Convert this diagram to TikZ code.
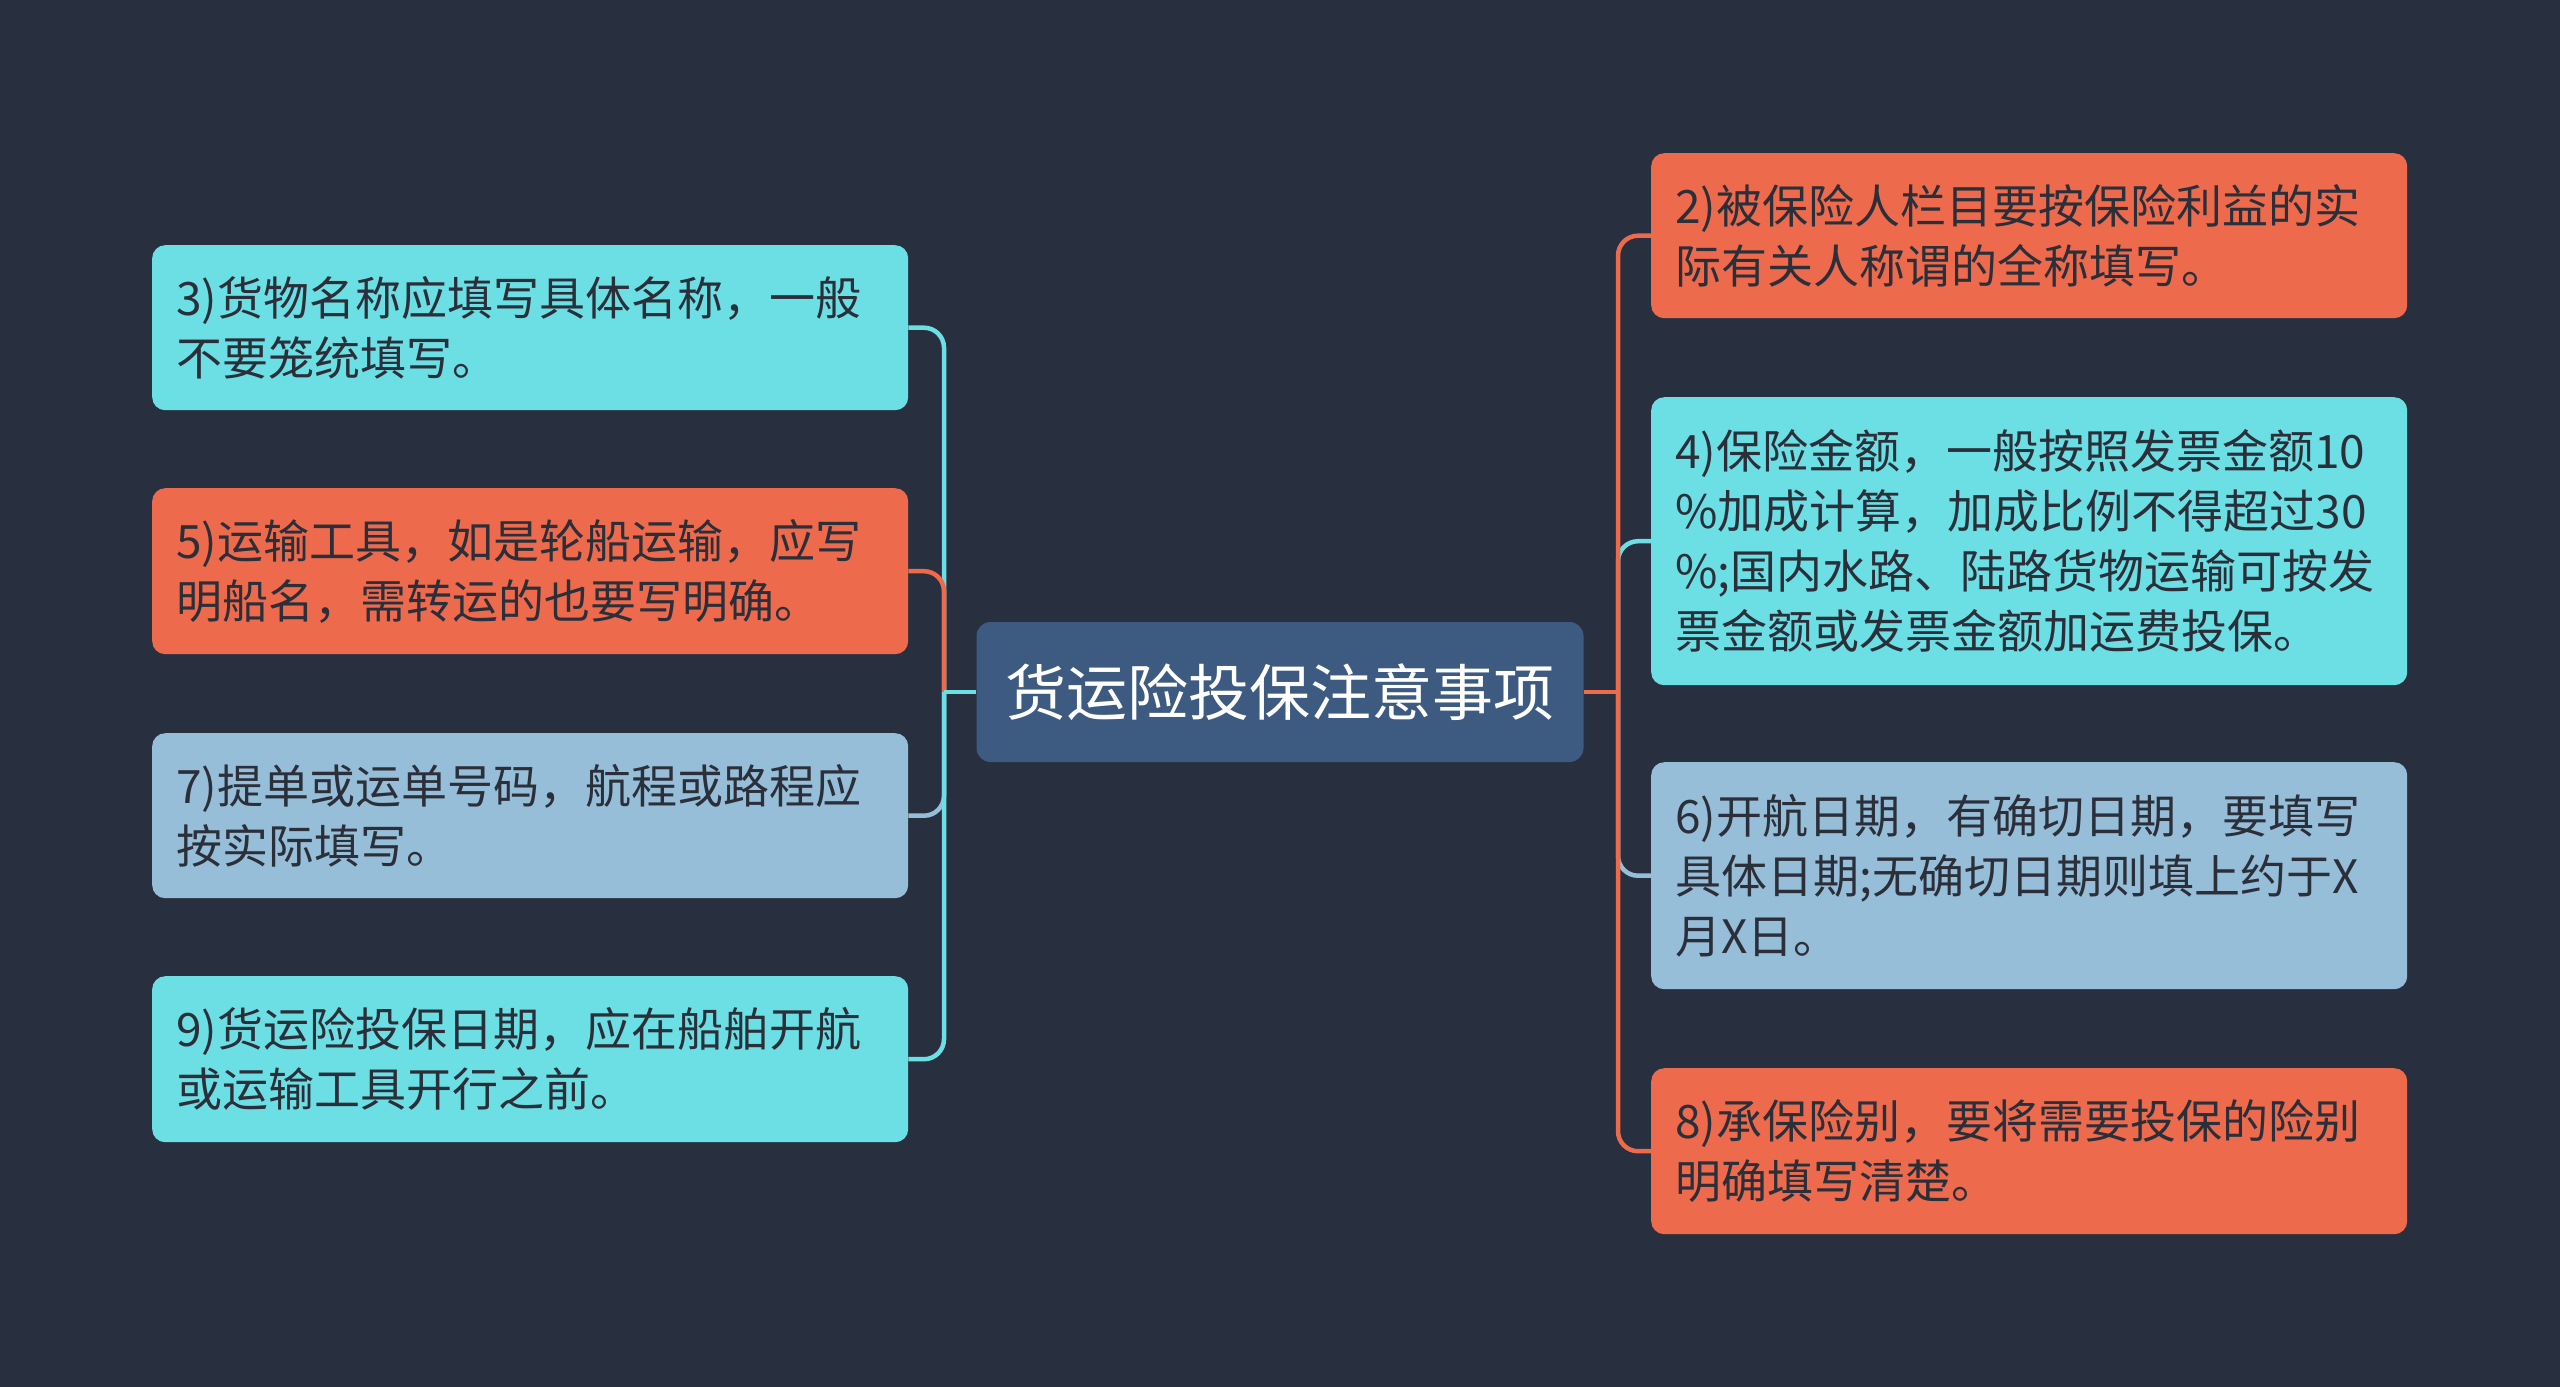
\documentclass[tikz,border=0pt]{standalone}
\usepackage{fontspec}
\newfontfamily\cjk{Noto Sans CJK SC}
\definecolor{bg}{HTML}{283040}
\definecolor{cyanb}{HTML}{6CDFE4}
\definecolor{orangeb}{HTML}{EE6A4C}
\definecolor{blueb}{HTML}{97BED8}
\definecolor{centerb}{HTML}{3D5A80}
\definecolor{txt}{HTML}{2B2F3A}
\tikzset{
  leaf/.style={rectangle, rounded corners=13pt, text width=708pt, inner xsep=24pt, inner ysep=0pt,
    align=left, minimum width=756pt, anchor=north west, text=txt,
    font=\cjk\fontsize{46}{60}\selectfont},
  rootbox/.style={rectangle, rounded corners=14pt, fill=centerb, text=white, minimum width=607pt,
    minimum height=140pt, inner sep=0pt, font=\cjk\fontsize{61}{70}\selectfont},
  link/.style={line width=4.5pt, rounded corners=20pt}
}
\begin{document}
\begin{tikzpicture}[x=1pt,y=-1pt]
\fill[bg] (0,0) rectangle (2560,1387);
\useasboundingbox (0,0) rectangle (2560,1387);

\node[rootbox] (root) at (1280,692) {货运险投保注意事项};

% left
\node[leaf, fill=cyanb, minimum height=165pt] (n3) at (152,245) {3)货物名称应填写具体名称，一般\\不要笼统填写。};
\node[leaf, fill=orangeb, minimum height=166pt] (n5) at (152,488) {5)运输工具，如是轮船运输，应写\\明船名，需转运的也要写明确。};
\node[leaf, fill=blueb, minimum height=165pt] (n7) at (152,733) {7)提单或运单号码，航程或路程应\\按实际填写。};
\node[leaf, fill=cyanb, minimum height=166pt] (n9) at (152,976) {9)货运险投保日期，应在船舶开航\\或运输工具开行之前。};

% right
\node[leaf, fill=orangeb, minimum height=165pt] (n2) at (1651,153) {2)被保险人栏目要按保险利益的实\\际有关人称谓的全称填写。};
\node[leaf, fill=cyanb, minimum height=288pt] (n4) at (1651,397) {4)保险金额，一般按照发票金额10\\\%加成计算，加成比例不得超过30\\\%;国内水路、陆路货物运输可按发\\票金额或发票金额加运费投保。};
\node[leaf, fill=blueb, minimum height=227pt] (n6) at (1651,762) {6)开航日期，有确切日期，要填写\\具体日期;无确切日期则填上约于X\\月X日。};
\node[leaf, fill=orangeb, minimum height=166pt] (n8) at (1651,1068) {8)承保险别，要将需要投保的险别\\明确填写清楚。};

\coordinate (jl) at (944,692);
\coordinate (jr) at (1618,692);

% left connectors
\draw[link, cyanb] (jl) |- (n3.east);
\draw[link, orangeb] (jl) |- (n5.east);
\draw[link, blueb] (jl) |- (n7.east);
\draw[link, cyanb] (jl) |- (n9.east);
\draw[line width=4.5pt, cyanb] (root.west) -- (jl);

% right connectors
\draw[link, cyanb] (jr) |- (n4.west);
\draw[link, orangeb] (jr) |- (n2.west);
\draw[link, blueb] (jr) |- (n6.west);
\draw[link, orangeb] (jr) |- (n8.west);
\draw[line width=4.5pt, orangeb] (root.east) -- (jr);
\end{tikzpicture}
\end{document}
